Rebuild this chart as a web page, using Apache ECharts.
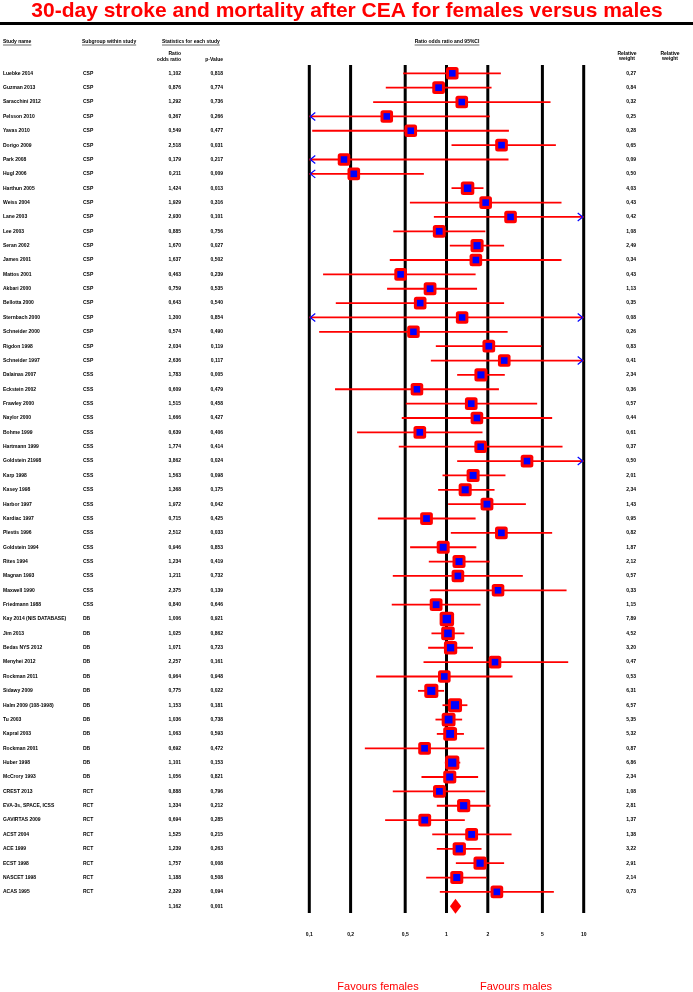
<!DOCTYPE html>
<html lang="en">
<head>
    <meta charset="UTF-8">
    <title>30-day stroke and mortality after CEA for females versus males</title>
    <script src="https://cdn.jsdelivr.net/npm/echarts@6/dist/echarts.min.js"></script>
    <style>
        * {
            margin: 0;
            padding: 0;
            box-sizing: border-box;
        }

        body {
            background: #ffffff;
        }

        #chart {
            width: 693px;
            height: 992px;
        }
    </style>
</head>
<body>
    <div id="chart"></div>

    <script>
        // study rows, top to bottom
        const studies = ['Luebke 2014', 'Guzman 2013', 'Saracchini 2012', 'Pelsson 2010', 'Yavas 2010', 'Dorigo 2009', 'Park 2008', 'Hugl 2006', 'Harthun 2005', 'Weiss 2004',
            'Lane 2003', 'Lee 2003', 'Seran 2002', 'James 2001', 'Mattos 2001', 'Akbari 2000', 'Bellotta 2000', 'Sternbach 2000', 'Schneider 2000', 'Rigdon 1998',
            'Schneider 1997', 'Dalainas 2007', 'Eckstein 2002', 'Frawley 2000', 'Naylor 2000', 'Bohme 1999', 'Hartmann 1999', 'Goldstein 21998', 'Karp 1998', 'Kasey 1998',
            'Harbor 1997', 'Kardiac 1997', 'Plestis 1996', 'Goldstein 1994', 'Rites 1994', 'Magnan 1993', 'Maxwell 1990', 'Friedmann 1988', 'Kay 2014 (NIS DATABASE)', 'Jim 2013',
            'Bedas NYS 2012', 'Menyhei 2012', 'Rockman 2011', 'Sidawy 2009', 'Halm 2009 (108-1998)', 'Tu 2003', 'Kapral 2003', 'Rockman 2001', 'Huber 1998', 'McCrory 1993',
            'CREST 2013', 'EVA-3s, SPACE, ICSS', 'GAVIRTAS 2009', 'ACST 2004', 'ACE 1999', 'ECST 1998', 'NASCET 1998', 'ACAS 1995'];

        const subgroups = ['CSP', 'CSP', 'CSP', 'CSP', 'CSP', 'CSP', 'CSP', 'CSP', 'CSP', 'CSP',
            'CSP', 'CSP', 'CSP', 'CSP', 'CSP', 'CSP', 'CSP', 'CSP', 'CSP', 'CSP',
            'CSP', 'CSS', 'CSS', 'CSS', 'CSS', 'CSS', 'CSS', 'CSS', 'CSS', 'CSS',
            'CSS', 'CSS', 'CSS', 'CSS', 'CSS', 'CSS', 'CSS', 'CSS', 'DB', 'DB',
            'DB', 'DB', 'DB', 'DB', 'DB', 'DB', 'DB', 'DB', 'DB', 'DB',
            'RCT', 'RCT', 'RCT', 'RCT', 'RCT', 'RCT', 'RCT', 'RCT'];

        const oddsRatios = [1.102, 0.876, 1.292, 0.367, 0.549, 2.518, 0.179, 0.211, 1.424, 1.929,
            2.930, 0.885, 1.670, 1.637, 0.463, 0.759, 0.643, 1.300, 0.574, 2.034,
            2.636, 1.783, 0.609, 1.515, 1.666, 0.639, 1.774, 3.862, 1.563, 1.368,
            1.972, 0.715, 2.512, 0.946, 1.234, 1.211, 2.375, 0.840, 1.006, 1.025,
            1.071, 2.257, 0.964, 0.775, 1.153, 1.036, 1.063, 0.692, 1.101, 1.056,
            0.888, 1.334, 0.694, 1.525, 1.239, 1.757, 1.188, 2.329];

        const lowerCI = [0.483, 0.361, 0.292, 0.065, 0.105, 1.088, 0.011, 0.065, 1.088, 0.541,
            0.809, 0.409, 1.057, 0.386, 0.126, 0.369, 0.156, 0.040, 0.118, 0.836,
            0.769, 1.196, 0.154, 0.505, 0.472, 0.223, 0.449, 1.196, 0.935, 0.869,
            1.028, 0.316, 1.075, 0.543, 0.743, 0.406, 0.756, 0.399, 0.930, 0.777,
            0.735, 0.680, 0.307, 0.620, 0.935, 0.831, 0.850, 0.254, 0.972, 0.657,
            0.406, 0.850, 0.357, 0.787, 0.850, 1.170, 0.711, 0.894];

        const upperCI = [2.49, 2.13, 5.73, 2.07, 2.85, 6.27, 2.83, 0.684, 1.86, 6.89,
            10.6, 1.92, 2.63, 6.89, 1.63, 1.67, 2.63, 42, 2.79, 4.93,
            11.0, 2.66, 2.41, 4.58, 5.89, 1.83, 7.01, 12.5, 2.69, 2.24,
            3.79, 1.63, 5.89, 1.65, 2.06, 3.60, 7.50, 1.77, 1.08, 1.35,
            1.56, 7.71, 3.03, 0.960, 1.42, 1.30, 1.34, 1.89, 1.26, 1.70,
            1.92, 2.09, 1.36, 2.98, 1.80, 2.63, 1.96, 6.06];

        const pValues = [0.818, 0.774, 0.736, 0.266, 0.477, 0.031, 0.217, 0.009, 0.013, 0.316,
            0.101, 0.756, 0.027, 0.502, 0.239, 0.535, 0.540, 0.854, 0.490, 0.119,
            0.117, 0.005, 0.479, 0.458, 0.427, 0.406, 0.414, 0.024, 0.098, 0.175,
            0.042, 0.425, 0.033, 0.853, 0.419, 0.732, 0.139, 0.646, 0.921, 0.862,
            0.723, 0.161, 0.948, 0.022, 0.181, 0.738, 0.593, 0.472, 0.153, 0.821,
            0.796, 0.212, 0.285, 0.215, 0.263, 0.008, 0.508, 0.094];

        const weights = [0.27, 0.84, 0.32, 0.25, 0.28, 0.65, 0.09, 0.50, 4.03, 0.43,
            0.42, 1.08, 2.49, 0.34, 0.43, 1.13, 0.35, 0.08, 0.26, 0.83,
            0.41, 2.34, 0.36, 0.57, 0.44, 0.61, 0.37, 0.50, 2.01, 2.34,
            1.43, 0.95, 0.82, 1.87, 2.12, 0.57, 0.33, 1.15, 7.89, 4.52,
            3.20, 0.47, 0.53, 6.31, 6.57, 5.35, 5.32, 0.87, 6.86, 2.34,
            1.08, 2.81, 1.37, 1.38, 3.22, 2.91, 2.14, 0.73];

        // pooled result
        const summaryOR = 1.162;
        const summaryLower = 1.06;
        const summaryUpper = 1.28;
        const summaryP = 0.001;

        const tickValues = [0.1, 0.2, 0.5, 1, 2, 5, 10];
        const tickLabels = ['0,1', '0,2', '0,5', '1', '2', '5', '10'];

        const X_MIN = 0.1, X_MAX = 10;
        const Y_MIN = 0.42, Y_MAX = 59.47;
        const summaryRow = studies.length + 1;

        const RED = '#ff0000';
        const BLUE = '#0000ff';
        const FAMILY = '"Liberation Sans", Arial, sans-serif';
        const SMALL = 'bold 5px ' + FAMILY;

        const comma = (v, d) => v.toFixed(d).replace('.', ',');

        // width of a text, for the underlines
        const measureCtx = document.createElement('canvas').getContext('2d');
        function textWidth(text, font) {
            measureCtx.font = font;
            return measureCtx.measureText(text).width;
        }

        function txt(x, y, text, font, fill, align) {
            return {
                type: 'text', x: x, y: y, silent: true,
                style: {
                    text: text, font: font, fill: fill || '#000',
                    align: align || 'left', verticalAlign: 'middle',
                    textAlign: align || 'left', textVerticalAlign: 'middle'
                }
            };
        }

        function underlined(x, y, text, align) {
            const w = textWidth(text, SMALL);
            const x0 = align === 'center' ? x - w / 2 : x;
            return [
                txt(x, y, text, SMALL, '#000', align),
                { type: 'line', silent: true, shape: { x1: x0, y1: y + 3, x2: x0 + w, y2: y + 3 }, style: { stroke: '#000', lineWidth: 0.6 } }
            ];
        }

        // headers and labels around the plot
        const headerGraphics = [
            txt(347, 11, '30-day stroke and mortality after CEA for females versus males', 'bold 21px ' + FAMILY, RED, 'center'),
            { type: 'rect', silent: true, shape: { x: 0, y: 22, width: 693, height: 3 }, style: { fill: '#000' } },
            ...underlined(3, 42, 'Study name'),
            ...underlined(82, 42, 'Subgroup within study'),
            ...underlined(162, 42, 'Statistics for each study'),
            ...underlined(447, 42, 'Ratio odds ratio and 95%CI', 'center'),
            txt(181, 54, 'Ratio', SMALL, '#000', 'right'),
            txt(181, 60, 'odds ratio', SMALL, '#000', 'right'),
            txt(223, 60, 'p-Value', SMALL, '#000', 'right'),
            txt(627, 54, 'Relative', SMALL, '#000', 'center'),
            txt(627, 59, 'weight', SMALL, '#000', 'center'),
            txt(670, 54, 'Relative', SMALL, '#000', 'center'),
            txt(670, 59, 'weight', SMALL, '#000', 'center'),
            txt(378, 987, 'Favours females', '11px ' + FAMILY, RED, 'center'),
            txt(516, 987, 'Favours males', '11px ' + FAMILY, RED, 'center')
        ];

        const chart = echarts.init(document.getElementById('chart'));

        // one row of the table on the left and right
        function renderTableRow(params, api) {
            const i = params.dataIndex;
            const y = api.coord([1, api.value(1)])[1];
            if (i === studies.length) {
                return {
                    type: 'group', children: [
                        txt(181, y, comma(summaryOR, 3), SMALL, '#000', 'right'),
                        txt(223, y, comma(summaryP, 3), SMALL, '#000', 'right')
                    ]
                };
            }
            return {
                type: 'group', children: [
                    txt(3, y, studies[i], SMALL),
                    txt(83, y, subgroups[i], SMALL),
                    txt(181, y, comma(oddsRatios[i], 3), SMALL, '#000', 'right'),
                    txt(223, y, comma(pValues[i], 3), SMALL, '#000', 'right'),
                    txt(636, y, comma(weights[i], 2), SMALL, '#000', 'right')
                ]
            };
        }

        // CI line, arrows when cut off, square for the odds ratio
        function renderStudy(params, api) {
            const i = params.dataIndex;
            const row = api.value(1);
            const lo = Math.max(lowerCI[i], X_MIN);
            const hi = Math.min(upperCI[i], X_MAX);
            const pL = api.coord([lo, row]);
            const pR = api.coord([hi, row]);
            const pC = api.coord([api.value(0), row]);
            const s = 12.5 + 0.25 * weights[i];
            const children = [
                { type: 'line', shape: { x1: pL[0], y1: pL[1], x2: pR[0], y2: pR[1] }, style: { stroke: RED, lineWidth: 1.8 } }
            ];
            if (lowerCI[i] < X_MIN) {
                children.push({ type: 'polyline', shape: { points: [[pL[0] + 6, pL[1] - 4], [pL[0] + 1, pL[1]], [pL[0] + 6, pL[1] + 4]] }, style: { stroke: BLUE, fill: null, lineWidth: 1.2 } });
            }
            if (upperCI[i] > X_MAX) {
                children.push({ type: 'polyline', shape: { points: [[pR[0] - 6, pR[1] - 4], [pR[0] - 1, pR[1]], [pR[0] - 6, pR[1] + 4]] }, style: { stroke: BLUE, fill: null, lineWidth: 1.2 } });
            }
            children.push(
                { type: 'rect', shape: { x: pC[0] - s / 2, y: pC[1] - s / 2, width: s, height: s, r: 2.5 }, style: { fill: RED } },
                { type: 'rect', shape: { x: pC[0] - s / 2 + 3, y: pC[1] - s / 2 + 3, width: s - 6, height: s - 6 }, style: { fill: BLUE } }
            );
            return { type: 'group', children: children };
        }

        function renderSummary(params, api) {
            const row = api.value(1);
            const pL = api.coord([summaryLower, row]);
            const pR = api.coord([summaryUpper, row]);
            const pC = api.coord([api.value(0), row]);
            return {
                type: 'polygon',
                shape: { points: [[pL[0], pC[1]], [pC[0], pC[1] - 7.5], [pR[0], pC[1]], [pC[0], pC[1] + 7.5]] },
                style: { fill: RED }
            };
        }

        // vertical reference lines and their labels
        function renderTick(params, api) {
            const v = api.value(0);
            const top = api.coord([v, Y_MIN]);
            const bottom = api.coord([v, Y_MAX]);
            return {
                type: 'group', children: [
                    { type: 'line', shape: { x1: top[0], y1: top[1], x2: bottom[0], y2: bottom[1] }, style: { stroke: '#000', lineWidth: 3 } },
                    txt(bottom[0], bottom[1] + 22, tickLabels[params.dataIndex], SMALL, '#000', 'center')
                ]
            };
        }

        const tableRows = studies.map((_, i) => [1, i + 1]).concat([[1, summaryRow]]);

        chart.setOption({
            animation: false,
            graphic: headerGraphics,
            grid: { left: 309.3, right: 693 - 583.7, top: 65, bottom: 992 - 913 },
            xAxis: {
                type: 'log', logBase: 10, min: X_MIN, max: X_MAX,
                axisLine: { show: false }, axisTick: { show: false }, axisLabel: { show: false }, splitLine: { show: false }
            },
            yAxis: {
                type: 'value', inverse: true, min: Y_MIN, max: Y_MAX,
                axisLine: { show: false }, axisTick: { show: false }, axisLabel: { show: false }, splitLine: { show: false }
            },
            series: [
                { type: 'custom', name: 'ticks', clip: false, renderItem: renderTick, data: tickValues.map(v => [v, Y_MIN]), z: 1 },
                { type: 'custom', name: 'table', clip: false, renderItem: renderTableRow, data: tableRows, z: 1 },
                { type: 'custom', name: 'studies', clip: false, renderItem: renderStudy, data: oddsRatios.map((v, i) => [v, i + 1]), z: 2 },
                { type: 'custom', name: 'summary', clip: false, renderItem: renderSummary, data: [[summaryOR, summaryRow]], z: 2 }
            ]
        });

        window.addEventListener('resize', function () {
            chart.resize();
        });
    </script>
</body>
</html>
